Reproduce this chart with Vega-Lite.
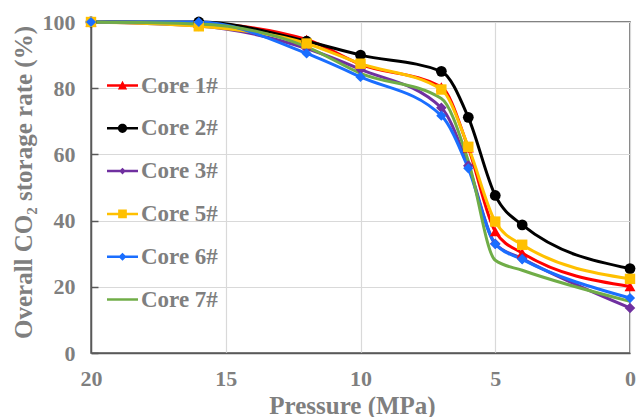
{
  "$schema": "https://vega.github.io/schema/vega-lite/v6.json",
  "autosize": "none",
  "width": 539,
  "height": 331,
  "padding": {"left": 91, "top": 22, "right": 6, "bottom": 64},
  "background": "white",
  "config": {
    "view": {"stroke": "#595959", "strokeWidth": 1.5},
    "axis": {
      "labelFont": "Liberation Serif", "labelFontWeight": "bold", "labelColor": "#7F7F7F", "labelFontSize": 22,
      "titleFont": "Liberation Serif", "titleFontWeight": "bold", "titleColor": "#7F7F7F", "titleFontSize": 25,
      "gridColor": "#D9D9D9", "gridWidth": 1.2, "domainColor": "#595959", "domainWidth": 1.5
    }
  },
  "datasets": {
    "rates": [
      {"core": "Core 1#", "pressure": 20, "rate": 100},
      {"core": "Core 1#", "pressure": 16, "rate": 99.6},
      {"core": "Core 1#", "pressure": 12, "rate": 94.7},
      {"core": "Core 1#", "pressure": 10, "rate": 87.2},
      {"core": "Core 1#", "pressure": 7, "rate": 80.4},
      {"core": "Core 1#", "pressure": 6, "rate": 62},
      {"core": "Core 1#", "pressure": 5, "rate": 36.7},
      {"core": "Core 1#", "pressure": 4, "rate": 30.2},
      {"core": "Core 1#", "pressure": 0, "rate": 20.1},
      {"core": "Core 2#", "pressure": 20, "rate": 100},
      {"core": "Core 2#", "pressure": 16, "rate": 100},
      {"core": "Core 2#", "pressure": 12, "rate": 94.2},
      {"core": "Core 2#", "pressure": 10, "rate": 90},
      {"core": "Core 2#", "pressure": 7, "rate": 85.1},
      {"core": "Core 2#", "pressure": 6, "rate": 71.2},
      {"core": "Core 2#", "pressure": 5, "rate": 47.6},
      {"core": "Core 2#", "pressure": 4, "rate": 38.7},
      {"core": "Core 2#", "pressure": 0, "rate": 25.5},
      {"core": "Core 3#", "pressure": 20, "rate": 100},
      {"core": "Core 3#", "pressure": 16, "rate": 98.8},
      {"core": "Core 3#", "pressure": 12, "rate": 92},
      {"core": "Core 3#", "pressure": 10, "rate": 85.7},
      {"core": "Core 3#", "pressure": 7, "rate": 74.1},
      {"core": "Core 3#", "pressure": 6, "rate": 56.6},
      {"core": "Core 3#", "pressure": 5, "rate": 33},
      {"core": "Core 3#", "pressure": 4, "rate": 28.5},
      {"core": "Core 3#", "pressure": 0, "rate": 13.6},
      {"core": "Core 5#", "pressure": 20, "rate": 100},
      {"core": "Core 5#", "pressure": 16, "rate": 98.7},
      {"core": "Core 5#", "pressure": 12, "rate": 93.5},
      {"core": "Core 5#", "pressure": 10, "rate": 87.4},
      {"core": "Core 5#", "pressure": 7, "rate": 79.6},
      {"core": "Core 5#", "pressure": 6, "rate": 62.3},
      {"core": "Core 5#", "pressure": 5, "rate": 39.7},
      {"core": "Core 5#", "pressure": 4, "rate": 32.7},
      {"core": "Core 5#", "pressure": 0, "rate": 22.4},
      {"core": "Core 6#", "pressure": 20, "rate": 100},
      {"core": "Core 6#", "pressure": 16, "rate": 100},
      {"core": "Core 6#", "pressure": 12, "rate": 90.5},
      {"core": "Core 6#", "pressure": 10, "rate": 83.4},
      {"core": "Core 6#", "pressure": 7, "rate": 71.7},
      {"core": "Core 6#", "pressure": 6, "rate": 55.8},
      {"core": "Core 6#", "pressure": 5, "rate": 32.9},
      {"core": "Core 6#", "pressure": 4, "rate": 28.3},
      {"core": "Core 6#", "pressure": 0, "rate": 16.6},
      {"core": "Core 7#", "pressure": 20, "rate": 100},
      {"core": "Core 7#", "pressure": 16, "rate": 99.4},
      {"core": "Core 7#", "pressure": 12, "rate": 92.5},
      {"core": "Core 7#", "pressure": 10, "rate": 84.5},
      {"core": "Core 7#", "pressure": 7, "rate": 76.9},
      {"core": "Core 7#", "pressure": 6, "rate": 58},
      {"core": "Core 7#", "pressure": 5, "rate": 28},
      {"core": "Core 7#", "pressure": 4, "rate": 25},
      {"core": "Core 7#", "pressure": 0, "rate": 15.6}
    ]
  },
  "data": {"name": "rates"},
  "encoding": {
    "x": {
      "field": "pressure", "type": "quantitative",
      "scale": {"domain": [0, 20], "reverse": true, "nice": false},
      "axis": {"values": [20, 15, 10, 5, 0], "title": "Pressure (MPa)", "ticks": false, "labelPadding": 15, "labelFlush": false,
               "titleX": 261, "titleY": 60, "titleBaseline": "alphabetic", "titleAnchor": "middle"}
    },
    "y": {
      "field": "rate", "type": "quantitative",
      "scale": {"domain": [0, 100], "nice": false},
      "axis": {"values": [0, 20, 40, 60, 80, 100], "title": "Overall CO₂ storage rate (%)", "tickSize": -7, "tickColor": "#595959", "tickWidth": 1.5, "labelPadding": 23, "labelFlush": false,
               "titleX": -60, "titleY": 160, "titleAngle": 270, "titleBaseline": "alphabetic", "titleAnchor": "middle"}
    }
  },
  "layer": [
    {
      "mark": {"type": "line", "interpolate": "monotone", "strokeWidth": 3},
      "encoding": {
        "color": {"field": "core", "type": "nominal",
          "scale": {"domain": ["Core 1#", "Core 2#", "Core 3#", "Core 5#", "Core 6#", "Core 7#"],
                    "range": ["#FF0000", "#000000", "#7030A0", "#FFC000", "#1A6EFF", "#70AD47"]},
          "legend": null}
      }
    },
    {
      "transform": [{"filter": "datum.core != 'Core 7#'"}],
      "mark": {"type": "point", "filled": true, "opacity": 1},
      "encoding": {
        "color": {"field": "core", "type": "nominal",
          "scale": {"domain": ["Core 1#", "Core 2#", "Core 3#", "Core 5#", "Core 6#", "Core 7#"],
                    "range": ["#FF0000", "#000000", "#7030A0", "#FFC000", "#1A6EFF", "#70AD47"]},
          "legend": null},
        "shape": {"field": "core", "type": "nominal",
          "scale": {"domain": ["Core 1#", "Core 2#", "Core 3#", "Core 5#", "Core 6#", "Core 7#"],
                    "range": ["triangle-up", "circle", "diamond", "square", "diamond", "circle"]},
          "legend": null},
        "size": {"field": "core", "type": "nominal",
          "scale": {"domain": ["Core 1#", "Core 2#", "Core 3#", "Core 5#", "Core 6#", "Core 7#"],
                    "range": [120, 100, 70, 110, 100, 0]},
          "legend": null}
      }
    },
    {
      "transform": [{"filter": "false"}],
      "mark": {"type": "point", "filled": true, "opacity": 1},
      "encoding": {
        "color": {"field": "core", "type": "nominal",
          "scale": {"domain": ["Core 1#", "Core 2#", "Core 3#", "Core 5#", "Core 6#", "Core 7#"],
                    "range": ["#FF0000", "#000000", "#7030A0", "#FFC000", "#1A6EFF", "#70AD47"]},
          "legend": {"orient": "none", "legendX": 16, "legendY": 48, "padding": 0, "rowPadding": 14.8,
                     "symbolSize": 961, "symbolStrokeWidth": 0, "labelFont": "Liberation Serif", "labelFontSize": 23,
                     "labelFontWeight": "bold", "labelColor": "#7F7F7F", "labelOffset": 3, "title": null}},
        "shape": {"field": "core", "type": "nominal",
          "scale": {"domain": ["Core 1#", "Core 2#", "Core 3#", "Core 5#", "Core 6#", "Core 7#"],
                    "range": [
                      "M-1,-0.08H1V0.08H-1ZM-0.3,0.25L0,-0.3L0.3,0.25Z",
                      "M-1,-0.08H1V0.08H-1ZM0.3,0A0.3,0.3 0 1,1 -0.3,0A0.3,0.3 0 1,1 0.3,0Z",
                      "M-1,-0.08H1V0.08H-1ZM0,-0.22L0.22,0L0,0.22L-0.22,0Z",
                      "M-1,-0.08H1V0.08H-1ZM-0.28,-0.28H0.28V0.28H-0.28Z",
                      "M-1,-0.08H1V0.08H-1ZM0,-0.26L0.26,0L0,0.26L-0.26,0Z",
                      "M-1,-0.08H1V0.08H-1Z"
                    ]},
          "legend": {"orient": "none", "legendX": 16, "legendY": 48, "padding": 0, "rowPadding": 14.8,
                     "symbolSize": 961, "symbolStrokeWidth": 0, "labelFont": "Liberation Serif", "labelFontSize": 23,
                     "labelFontWeight": "bold", "labelColor": "#7F7F7F", "labelOffset": 3, "title": null}}
      }
    }
  ],
  "resolve": {"scale": {"color": "independent", "shape": "independent", "size": "independent"}}
}
